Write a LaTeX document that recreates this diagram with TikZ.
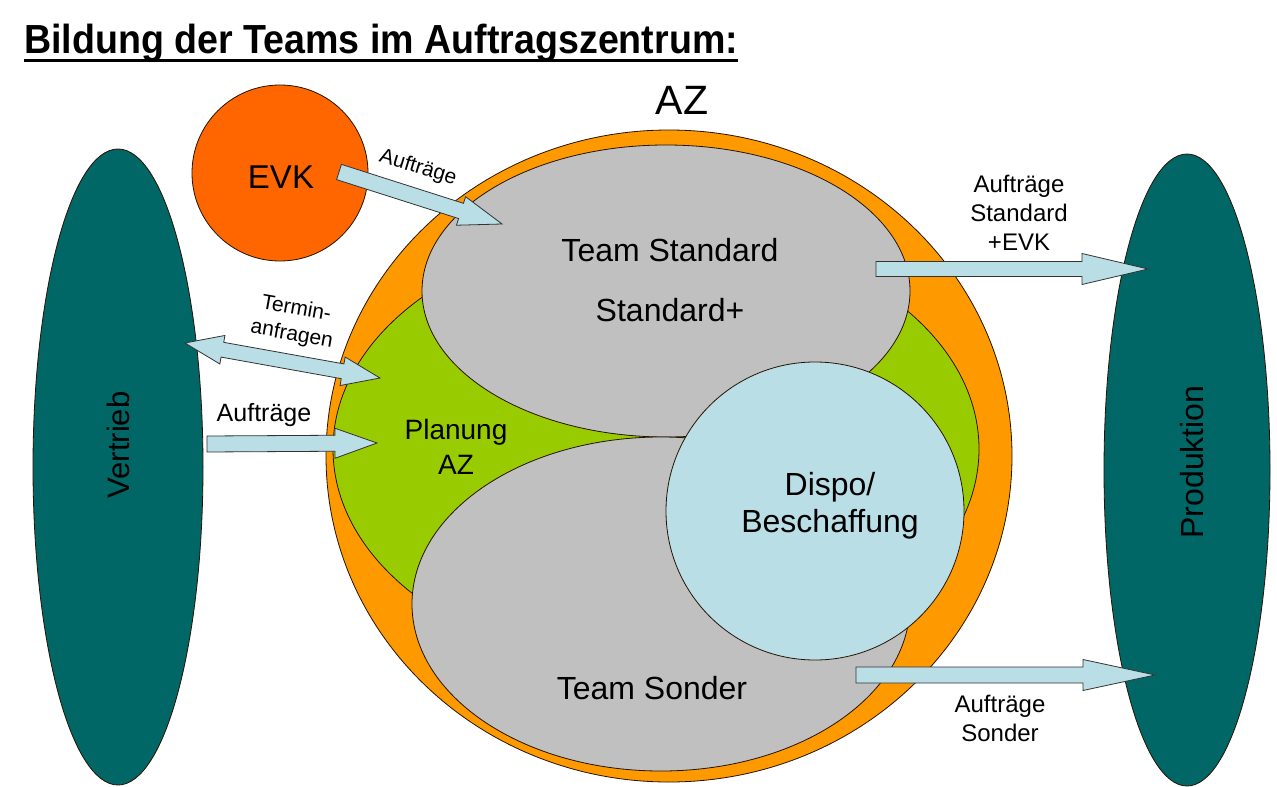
\documentclass[tikz,border=0pt]{standalone}
\usepackage{fontspec}
\setmainfont{Liberation Sans}
\usetikzlibrary{calc,shapes.geometric}
\definecolor{orangeAZ}{RGB}{255,153,0}
\definecolor{evkcol}{RGB}{255,102,0}
\definecolor{greenP}{RGB}{153,204,0}
\definecolor{grayT}{RGB}{192,192,192}
\definecolor{lblue}{RGB}{185,222,230}
\definecolor{tealV}{RGB}{0,102,102}
\newcommand{\blockarr}[5]{%
  \coordinate (ba-hb) at ($(#2)!#5!(#1)$);
  \draw[barrow] ($(#1)!#3!90:(#2)$) -- ($(ba-hb)!#3!-90:(#1)$) -- ($(ba-hb)!#4!-90:(#1)$) -- (#2)
    -- ($(ba-hb)!#4!90:(#1)$) -- ($(ba-hb)!#3!90:(#1)$) -- ($(#1)!#3!-90:(#2)$) -- cycle;}
\newcommand{\dblarr}[5]{%
  \coordinate (da-h1) at ($(#1)!#5!(#2)$);
  \coordinate (da-h2) at ($(#2)!#5!(#1)$);
  \draw[barrow] (#1) -- ($(da-h1)!#4!90:(#2)$) -- ($(da-h1)!#3!90:(#2)$) -- ($(da-h2)!#3!-90:(#1)$)
    -- ($(da-h2)!#4!-90:(#1)$) -- (#2) -- ($(da-h2)!#4!90:(#1)$) -- ($(da-h2)!#3!90:(#1)$)
    -- ($(da-h1)!#3!-90:(#2)$) -- ($(da-h1)!#4!-90:(#2)$) -- cycle;}
\tikzset{
  shapeline/.style={draw=black!85!orange, line width=0.8pt, inner sep=0pt},
  ell/.style={shapeline, ellipse},
  circ/.style={shapeline, circle},
  barrow/.style={draw=black!80, line width=0.8pt, fill=lblue, line join=miter},
  lbl/.style={inner sep=0pt, align=center, text=black},
}
\begin{document}
\begin{tikzpicture}[x=1pt,y=-1pt]
\useasboundingbox (0,0) rectangle (1277,787);
\fill[white] (0,0) rectangle (1277,787);
% title
\node[lbl, anchor=base west, font=\fontsize{37.6}{37.6}\selectfont\bfseries, yscale=1.08] (title) at (24,53) {Bildung der Teams im Auftragszentrum:};
\draw[line width=3pt] ($(title.base west)+(0,7)$) -- ($(title.base east)+(0,7)$);
% side ellipses
\node[ell, fill=tealV, minimum width=170pt, minimum height=636pt] (vertrieb) at (118,467) {};
\node[ell, fill=tealV, minimum width=166pt, minimum height=632pt] (produktion) at (1187,470) {};
\node[lbl, rotate=90, font=\fontsize{31}{31}\selectfont] (vtext) at (118,445) {Vertrieb};
\node[lbl, rotate=90, font=\fontsize{32}{32}\selectfont] (ptext) at (1192,462) {Produktion};
% AZ
\node[ell, fill=orangeAZ, minimum width=686pt, minimum height=652pt] (az) at (669,456) {};
\node[lbl, font=\fontsize{41}{41}\selectfont] (aztext) at (682,100) {AZ};
\node[ell, fill=greenP, minimum width=646pt, minimum height=440pt] (planung) at (656,449) {};
\node[ell, fill=grayT, minimum width=488pt, minimum height=292pt] (standard) at (666,291) {};
\node[ell, fill=grayT, minimum width=498pt, minimum height=334pt] (sonder) at (661,604) {};
\node[circ, fill=lblue, minimum size=298pt] (dispo) at (815,511) {};
\node[circ, fill=evkcol, minimum size=176pt] (evk) at (280,173) {};
% texts inside
\node[lbl, font=\fontsize{33}{33}\selectfont] at (281,177) {EVK};
\node[lbl, font=\fontsize{32}{32}\selectfont] at (670,250) {Team Standard};
\node[lbl, font=\fontsize{32}{32}\selectfont] at (670,310) {Standard+};
\node[lbl, font=\fontsize{28}{35}\selectfont] at (456,447) {Planung\\AZ};
\node[lbl, font=\fontsize{32}{37}\selectfont] at (830,506) {Dispo/\\Beschaffung};
\node[lbl, font=\fontsize{32}{32}\selectfont] at (652,688) {Team Sonder};
% arrows
\coordinate (evkS) at (339,172); \coordinate (evkE) at (502,224);
\blockarr{evkS}{evkE}{8pt}{15pt}{43pt}
\coordinate (tL) at (185,343); \coordinate (tR) at (380,378);
\dblarr{tL}{tR}{7.5pt}{14.5pt}{38pt}
\coordinate (vS) at (207,444); \coordinate (vE) at (377,443);
\blockarr{vS}{vE}{8pt}{15pt}{42pt}
\coordinate (sS) at (876,269); \coordinate (sE) at (1148,269);
\blockarr{sS}{sE}{7.5pt}{15.5pt}{66pt}
\coordinate (oS) at (856,675); \coordinate (oE) at (1155,675);
\blockarr{oS}{oE}{8pt}{15.5pt}{72pt}
% arrow labels
\node[lbl, rotate=-17, font=\fontsize{21}{21}\selectfont] at (418,168) {Aufträge};
\node[lbl, rotate=-10, font=\fontsize{21}{26}\selectfont] at (294,322) {Termin-\\anfragen};
\node[lbl, font=\fontsize{25}{25}\selectfont] at (264,415) {Aufträge};
\node[lbl, font=\fontsize{24}{29}\selectfont] at (1019,213) {Aufträge\\Standard\\+EVK};
\node[lbl, font=\fontsize{24}{29}\selectfont] at (1000,718) {Aufträge\\Sonder};
\end{tikzpicture}
\end{document}
